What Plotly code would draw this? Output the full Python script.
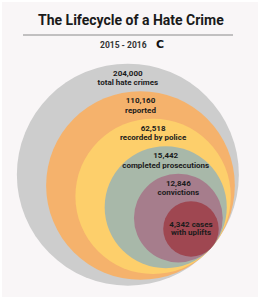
import plotly.graph_objects as go

# ---- data ----
values = [204000, 110160, 62518, 15442, 12846, 4342]
descriptions = ["total hate crimes", "reported", "recorded by police",
                "completed prosecutions", "convictions", "with uplifts"]
value_suffix = ["", "", "", "", "", " cases"]
colors = ["#cdcdcd", "#f5b26c", "#fdcf6b", "#a8b8a9", "#a67d8c", "#9f4751"]
title_text = "The Lifecycle of a Hate Crime"
subtitle_text = "2015 - 2016"

FONT = "Roboto, sans-serif"
W, H = 260, 300

# ---- geometry (circles internally tangent at a lower-right point) ----
T = (212.0, 247.0)          # common tangent point
u = (0.758, 0.652)          # direction from centre to tangent point
R0 = 111.0
step = 0.15

fig = go.Figure()
shapes = []
# card background
shapes.append(dict(type="rect", xref="x", yref="y", x0=2, x1=258, y0=2, y1=297,
                   fillcolor="#f9f6f7", line=dict(width=0), layer="below"))

centers = []
for i, v in enumerate(values):
    r = R0 * (1 - step * i)
    cx = T[0] - r * u[0]
    cy = T[1] - r * u[1]
    centers.append((cx, cy, r))
    shapes.append(dict(type="circle", xref="x", yref="y",
                       x0=cx - r, x1=cx + r, y0=cy - r, y1=cy + r,
                       fillcolor=colors[i], line=dict(width=0), layer="below"))

# divider line under title
shapes.append(dict(type="line", xref="x", yref="y", x0=23, x1=233, y0=35, y1=35,
                   line=dict(color="#8a8a8a", width=1)))

xs, ys, txt = [], [], []
for i, v in enumerate(values):
    cx, cy, r = centers[i]
    num = f"{v:,}{value_suffix[i]}"
    if i < len(values) - 1:
        top = cy - r
        xs += [cx, cx]
        ys += [top + 10, top + 19.5]
    else:
        xs += [cx, cx]
        ys += [cy - 4.3, cy + 4.3]
    txt += [f"<b>{num}</b>", f"<b>{descriptions[i]}</b>"]

fig.add_trace(go.Scatter(x=xs, y=ys, text=txt, mode="text",
                         textposition="middle center",
                         textfont=dict(family=FONT, size=8, color="#1b1b1b"),
                         hoverinfo="skip", showlegend=False))

annotations = [
    dict(x=131, y=20, xref="x", yref="y", text=f"<b>{title_text}</b>", showarrow=False,
         font=dict(family=FONT, size=14, color="#1a1a1a"), xanchor="center", yanchor="middle"),
    dict(x=123, y=44.5, xref="x", yref="y", text=f"<b>{subtitle_text}</b>", showarrow=False,
         font=dict(family=FONT, size=8.5, color="#333333"), xanchor="center", yanchor="middle"),
    dict(x=160, y=44.5, xref="x", yref="y", text="<b>C</b>", showarrow=False,
         font=dict(family="DejaVu Sans", size=11, color="#111111"), xanchor="center", yanchor="middle"),
]

fig.update_layout(
    width=W, height=H, margin=dict(l=0, r=0, t=0, b=0),
    paper_bgcolor="#ffffff", plot_bgcolor="rgba(0,0,0,0)",
    shapes=shapes, annotations=annotations,
    xaxis=dict(range=[0, W], visible=False, fixedrange=True),
    yaxis=dict(range=[H, 0], visible=False, fixedrange=True),
)
fig.write_html("out.html")
